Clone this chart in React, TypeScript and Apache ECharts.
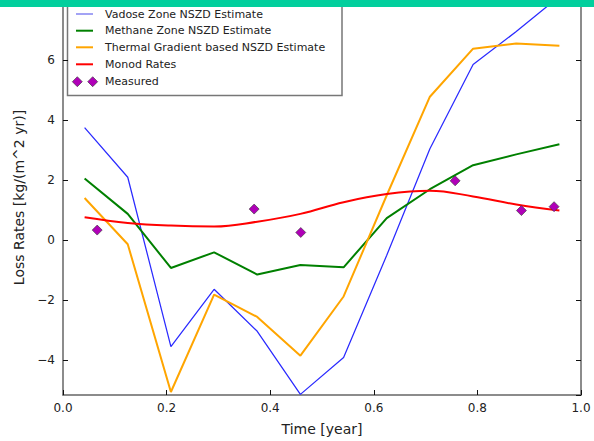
import React, { useEffect, useRef } from "react";
import * as echarts from "echarts";

// Time (years) of each modelled estimate
const timeYears = [0.0417, 0.125, 0.2083, 0.2917, 0.375, 0.4583, 0.5417, 0.625, 0.7083, 0.7917, 0.875, 0.9583];
const vadose = [3.75, 2.1, -3.54, -1.63, -3.03, -5.13, -3.9, -0.5, 3.05, 5.85, 6.95, 8.12];
const methane = [2.06, 0.88, -0.92, -0.4, -1.14, -0.82, -0.9, 0.74, 1.7, 2.5, 2.86, 3.2];
const thermal = [1.41, -0.13, -5.05, -1.81, -2.55, -3.84, -1.87, 1.5, 4.78, 6.38, 6.55, 6.48];
const monod = [0.77, 0.58, 0.49, 0.46, 0.62, 0.88, 1.27, 1.54, 1.65, 1.46, 1.19, 0.99];
const measuredTime = [0.066, 0.369, 0.459, 0.757, 0.885, 0.948];
const measured = [0.34, 1.04, 0.26, 1.98, 0.99, 1.12];

const seriesNames = [
  "Vadose Zone NSZD Estimate",
  "Methane Zone NSZD Estimate",
  "Thermal Gradient based NSZD Estimate",
  "Monod Rates",
  "Measured",
];

const FONT = "DejaVu Sans";

function pairs(xs: number[], ys: number[]) {
  return xs.map((x, i) => [x, ys[i]]);
}

export default function App() {
  const ref = useRef<HTMLDivElement>(null);
  useEffect(() => {
    if (!ref.current) return;
    const chart = echarts.init(ref.current, undefined, { renderer: "svg" });
    const spine = { show: true, onZero: false, lineStyle: { color: "#666", width: 1.5 } };
    const tick = { show: true, inside: true, length: 5, lineStyle: { color: "#111", width: 1 } };
    const yFmt = (v: number) => (v > 7 ? "" : v < 0 ? "\u2212" + Math.abs(v) : String(v));
    const legendRows = [14, 30.7, 47.3, 64.3, 81.7];
    const legendColors = ["#a3a3f5", "#008000", "#ffa500", "#ff0000"];
    const legendEls: any[] = [
      {
        type: "rect",
        shape: { x: 67.5, y: -5, width: 274.5, height: 100.5 },
        style: { fill: "#fff", stroke: "#777", lineWidth: 1.5 },
      },
    ];
    for (let i = 0; i < 4; i++) {
      legendEls.push({
        type: "line",
        shape: { x1: 76, y1: legendRows[i], x2: 93, y2: legendRows[i] },
        style: { stroke: legendColors[i], lineWidth: 2 },
      });
    }
    [77.3, 92.7].forEach((cx) => {
      const cy = legendRows[4];
      legendEls.push({
        type: "polygon",
        shape: { points: [[cx, cy - 5], [cx + 5, cy], [cx, cy + 5], [cx - 5, cy]] },
        style: { fill: "#b000b8", stroke: "#333", lineWidth: 0.6 },
      });
    });
    seriesNames.forEach((n, i) => {
      legendEls.push({
        type: "text",
        x: 105,
        y: legendRows[i],
        style: { text: n, fill: "#222", font: `11px '${FONT}'`, verticalAlign: "middle", align: "left" },
      });
    });

    chart.setOption({
      animation: false,
      backgroundColor: "#fff",
      grid: { left: 63, right: 13, top: 0, bottom: 42, containLabel: false },
      xAxis: [
        {
          type: "value",
          min: 0,
          max: 1,
          interval: 0.2,
          position: "bottom",
          axisLine: spine,
          axisTick: tick,
          splitLine: { show: false },
          axisLabel: {
            margin: 7,
            fontSize: 12,
            color: "#222",
            fontFamily: FONT,
            formatter: (v: number) => v.toFixed(1),
          },
          name: "Time [year]",
          nameLocation: "middle",
          nameGap: 27,
          nameTextStyle: { fontSize: 14, color: "#222", fontFamily: FONT },
        },
        {
          type: "value",
          min: 0,
          max: 1,
          interval: 0.2,
          position: "top",
          axisLine: spine,
          axisTick: tick,
          splitLine: { show: false },
          axisLabel: { show: false },
        },
      ],
      yAxis: [
        {
          type: "value",
          min: -5.15,
          max: 8,
          splitNumber: 7,
          position: "left",
          axisLine: spine,
          axisTick: tick,
          splitLine: { show: false },
          axisLabel: {
            margin: 8,
            fontSize: 12,
            color: "#222",
            fontFamily: FONT,
            showMinLabel: false,
            showMaxLabel: false,
            formatter: yFmt,
          },
          name: "Loss Rates [kg/(m^2 yr)]",
          nameLocation: "middle",
          nameRotate: 90,
          nameGap: 33,
          nameTextStyle: { fontSize: 14, color: "#222", fontFamily: FONT },
        },
        {
          type: "value",
          min: -5.15,
          max: 8,
          splitNumber: 7,
          position: "right",
          axisLine: spine,
          axisTick: tick,
          splitLine: { show: false },
          axisLabel: { show: false },
        },
      ],
      series: [
        {
          name: seriesNames[0],
          type: "line",
          data: pairs(timeYears, vadose),
          symbol: "none",
          lineStyle: { color: "#2a2aff", width: 1.25 },
          itemStyle: { color: "#2a2aff" },
        },
        {
          name: seriesNames[1],
          type: "line",
          data: pairs(timeYears, methane),
          symbol: "none",
          lineStyle: { color: "#008000", width: 2 },
          itemStyle: { color: "#008000" },
        },
        {
          name: seriesNames[2],
          type: "line",
          data: pairs(timeYears, thermal),
          symbol: "none",
          lineStyle: { color: "#ffa500", width: 2 },
          itemStyle: { color: "#ffa500" },
        },
        {
          name: seriesNames[3],
          type: "line",
          data: pairs(timeYears, monod),
          symbol: "none",
          smooth: 0.4,
          lineStyle: { color: "#ff0000", width: 2 },
          itemStyle: { color: "#ff0000" },
        },
        {
          name: seriesNames[4],
          type: "scatter",
          data: pairs(measuredTime, measured),
          symbol: "diamond",
          symbolSize: [10, 10],
          itemStyle: { color: "#b000b8", borderColor: "#333", borderWidth: 0.6, opacity: 1 },
          z: 5,
        },
      ],
      graphic: [
        { type: "group", z: 100, children: legendEls },
        {
          type: "rect",
          z: 200,
          shape: { x: 0, y: 0, width: 594, height: 7 },
          style: { fill: "#02cf9d" },
        },
      ],
    });
    return () => chart.dispose();
  }, []);
  return (
    <div
      ref={ref}
      style={{ position: "fixed", left: 0, top: 0, width: 594, height: 441, background: "#fff" }}
    />
  );
}
